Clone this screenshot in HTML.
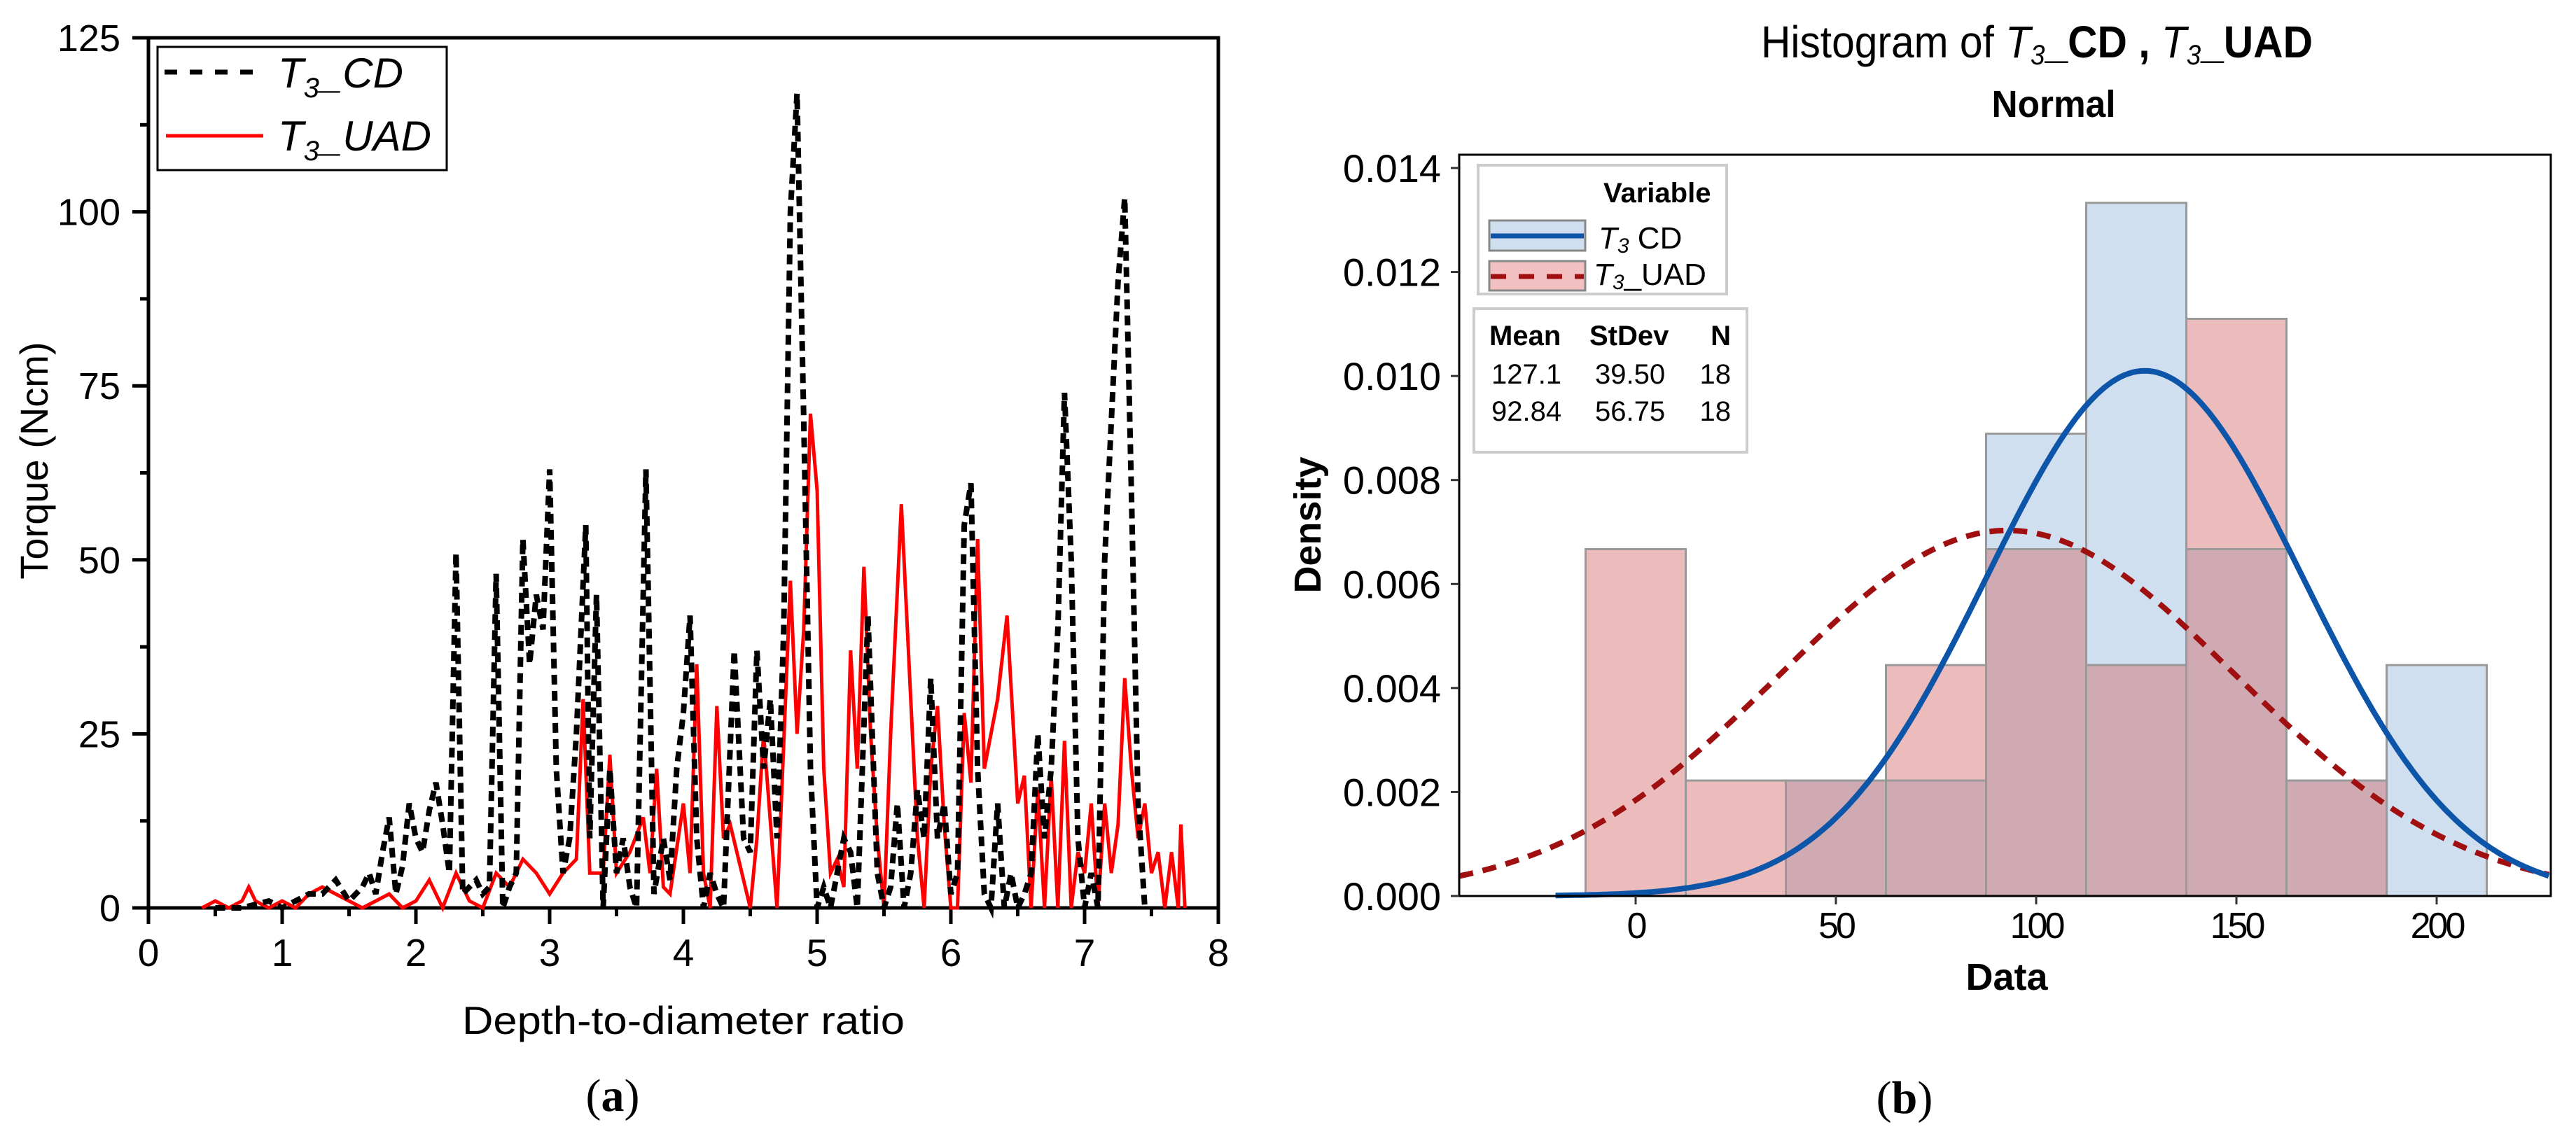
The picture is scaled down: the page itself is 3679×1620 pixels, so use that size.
<!DOCTYPE html>
<html><head><meta charset="utf-8"><style>html,body{margin:0;padding:0;background:#fff}svg{display:block}</style></head>
<body>
<svg id="fig" xmlns="http://www.w3.org/2000/svg" width="3679" height="1620" viewBox="0 0 3679 1620">
<rect width="3679" height="1620" fill="#fff"/>
<g id="left"></g>
<g id="right"></g>
</svg>
<script>
// ---------- Left chart data ----------
const xTicksL = [0,1,2,3,4,5,6,7,8];
const yTicksL = [0,25,50,75,100,125];
const cdX = [0.5,0.7,0.9,1.0,1.1,1.2,1.3,1.4,1.5,1.6,1.65,1.7,1.75,1.8,1.85,1.9,1.95,2.0,2.05,2.1,2.15,2.2,2.25,2.3,2.35,2.4,2.45,2.5,2.55,2.6,2.65,2.7,2.75,2.8,2.85,2.9,2.95,3.0,3.05,3.1,3.15,3.2,3.27,3.3,3.35,3.4,3.45,3.5,3.55,3.6,3.65,3.72,3.78,3.85,3.9,3.95,4.0,4.05,4.1,4.15,4.2,4.25,4.3,4.38,4.45,4.5,4.55,4.6,4.65,4.7,4.75,4.8,4.85,4.9,4.95,5.0,5.05,5.1,5.2,5.25,5.3,5.38,5.45,5.5,5.55,5.6,5.65,5.7,5.75,5.8,5.85,5.9,5.95,6.0,6.05,6.1,6.15,6.2,6.25,6.3,6.35,6.4,6.45,6.5,6.55,6.6,6.65,6.7,6.75,6.8,6.85,6.9,6.95,7.0,7.05,7.1,7.15,7.2,7.25,7.3,7.35,7.4,7.45];
const cdY = [0,0,1,0,1,2,2,4,1,3,5,2,8,13,2,6,15,10,8,14,18,12,5,51,2,3,4,2,3,48,0,3,5,53,35,45,40,63,20,5,10,25,55,10,45,0,20,5,10,3,0,63,2,10,4,20,28,42,10,0,5,2,0,37,10,8,37,20,30,10,40,100,117,70,20,0,3,0,10,8,0,42,5,0,3,15,0,5,17,10,33,10,15,2,5,55,61,20,2,0,15,0,5,0,2,5,25,10,20,40,74,50,10,0,5,0,50,70,90,102,60,15,0];
const uadX = [0.4,0.5,0.6,0.7,0.75,0.8,0.9,1.0,1.1,1.2,1.3,1.4,1.5,1.6,1.7,1.8,1.9,2.0,2.1,2.2,2.3,2.4,2.5,2.6,2.7,2.8,2.9,3.0,3.1,3.2,3.25,3.3,3.4,3.45,3.5,3.6,3.7,3.75,3.8,3.85,3.9,4.0,4.05,4.1,4.15,4.2,4.25,4.3,4.35,4.4,4.5,4.55,4.6,4.7,4.8,4.85,4.9,4.95,5.0,5.05,5.1,5.15,5.2,5.25,5.3,5.35,5.4,5.45,5.5,5.55,5.63,5.7,5.75,5.8,5.85,5.9,5.95,6.0,6.05,6.1,6.15,6.2,6.25,6.3,6.35,6.42,6.5,6.55,6.6,6.65,6.7,6.75,6.8,6.85,6.9,6.95,7.0,7.05,7.1,7.15,7.2,7.25,7.3,7.35,7.4,7.45,7.5,7.55,7.6,7.65,7.7,7.72,7.75];
const uadY = [0,1,0,1,3,1,0,1,0,2,3,2,1,0,1,2,0,1,4,0,5,1,0,5,3,7,5,2,5,7,30,5,5,22,5,8,13,5,20,3,2,15,5,35,5,0,29,10,12,8,0,10,25,0,47,25,40,71,60,20,5,7,3,37,20,49,25,10,0,25,58,30,10,0,20,29,12,0,0,28,18,53,20,25,30,42,15,19,0,17,0,19,0,24,0,8,5,15,0,15,5,12,33,20,10,15,5,8,0,8,0,12,0];
// ---------- Right chart data ----------
const binCenters = [0,25,50,75,100,125,150,175,200];
const cdDensity  = [0,0,0.00222,0.00222,0.00889,0.01333,0.00667,0.00222,0.00444];
const uadDensity = [0.00667,0.00222,0.00222,0.00444,0.00667,0.00444,0.0111,0.00222,0];
const xTicksR = [0,50,100,150,200];
const yTicksR = [0,0.002,0.004,0.006,0.008,0.010,0.012,0.014];
const yTickLabelsR = ["0.000","0.002","0.004","0.006","0.008","0.010","0.012","0.014"];
const cdStats = [127.1, 39.50, 18];
const uadStats = [92.84, 56.75, 18];
const statLabels = [["127.1","39.50","18"],["92.84","56.75","18"]];

const NS="http://www.w3.org/2000/svg";
function mk(parent,tag,attrs,text){const e=document.createElementNS(NS,tag);for(const k in attrs)e.setAttribute(k,attrs[k]);if(text!==undefined)e.textContent=text;parent.appendChild(e);return e;}

// ---------- Left ----------
const L=document.getElementById('left');
const lx=v=>212+v*(1740-212)/8, ly=v=>1297-v*(1297-54)/125;
let e;
e=mk(L,'rect',{x:212,y:54,width:1528,height:1243,fill:'none',stroke:'#000','stroke-width':5});

for(let i=0;i<xTicksL.length;i++){const v=xTicksL[i];
 e=mk(L,'line',{x1:lx(v),x2:lx(v),y1:1297,y2:1320,stroke:'#000','stroke-width':5});
 
 if(i<xTicksL.length-1){e=mk(L,'line',{x1:lx(v+0.5),x2:lx(v+0.5),y1:1297,y2:1309,stroke:'#000','stroke-width':5});
 }
 e=mk(L,'text',{x:lx(v),y:1380,'text-anchor':'middle','font-family':'Liberation Sans, sans-serif','font-size':55},String(v));
 
}
for(let i=0;i<yTicksL.length;i++){const v=yTicksL[i];
 e=mk(L,'line',{x1:189,x2:212,y1:ly(v),y2:ly(v),stroke:'#000','stroke-width':5});
 
 if(i<yTicksL.length-1){e=mk(L,'line',{x1:200,x2:212,y1:ly(v+12.5),y2:ly(v+12.5),stroke:'#000','stroke-width':5});
 }
 e=mk(L,'text',{x:172,y:ly(v)+19,'text-anchor':'end','font-family':'Liberation Sans, sans-serif','font-size':54},String(v));
 
}
function path(xs,ys,fx,fy){let d='';for(let i=0;i<xs.length;i++)d+=(i?'L':'M')+fx(xs[i]).toFixed(1)+','+fy(ys[i]).toFixed(1);return d;}
e=mk(L,'path',{d:path(uadX,uadY,lx,ly),fill:'none',stroke:'#ff0000','stroke-width':5,'stroke-linejoin':'miter'});

e=mk(L,'path',{d:path(cdX,cdY,lx,ly),fill:'none',stroke:'#000','stroke-width':8,'stroke-dasharray':'14 9'});

const lg=mk(L,'g',{});
e=mk(lg,'rect',{x:225,y:67,width:413,height:176,fill:'#fff',stroke:'#000','stroke-width':3});

e=mk(lg,'line',{x1:235,x2:367,y1:103,y2:103,stroke:'#000','stroke-width':7,'stroke-dasharray':'18 18'});

e=mk(lg,'line',{x1:237,x2:376,y1:194,y2:194,stroke:'#ff0000','stroke-width':5});

e=mk(lg,'text',{x:397,y:125,'font-family':'Liberation Sans, sans-serif','font-size':60,'font-style':'italic'});
e.innerHTML='T<tspan font-size="40" dy="14">3</tspan><tspan dy="-14">_CD</tspan>';

e=mk(lg,'text',{x:397,y:215,'font-family':'Liberation Sans, sans-serif','font-size':60,'font-style':'italic'});
e.innerHTML='T<tspan font-size="40" dy="14">3</tspan><tspan dy="-14">_UAD</tspan>';

e=mk(L,'text',{x:0,y:0,transform:'translate(68,658) rotate(-90)','text-anchor':'middle','font-family':'Liberation Sans, sans-serif','font-size':56},'Torque (Ncm)');

e=mk(L,'text',{x:976,y:1477,'text-anchor':'middle','font-family':'Liberation Sans, sans-serif','font-size':56,textLength:632,lengthAdjust:'spacingAndGlyphs'},'Depth-to-diameter ratio');

e=mk(L,'text',{x:875,y:1587,'text-anchor':'middle','font-family':'Liberation Serif, serif','font-size':66});
e.innerHTML='(<tspan font-weight="bold">a</tspan>)';


// ---------- Right ----------
const R=document.getElementById('right');
const rx=v=>2336+v*5.72, ry=v=>1280-v*(1280-240)/0.014;
const bw=25;
for(let i=0;i<binCenters.length;i++){
 const c=binCenters[i],a=cdDensity[i],b=uadDensity[i],lo=Math.min(a,b),hi=Math.max(a,b);
 const x0=rx(c-bw/2),w=rx(c+bw/2)-x0;
 if(hi>lo){e=mk(R,'rect',{x:x0,y:ry(hi),width:w,height:ry(lo)-ry(hi),fill:a>b?'#cfdff0':'#ecbcbc',stroke:'#999','stroke-width':3});
  }
 if(lo>0){e=mk(R,'rect',{x:x0,y:ry(lo),width:w,height:ry(0)-ry(lo),fill:'#cfaab2',stroke:'#999','stroke-width':3});
  }
}
function pdf(x,m,s){return Math.exp(-0.5*((x-m)/s)**2)/(s*Math.sqrt(2*Math.PI));}
function curve(st,x0){let d='';for(let x=x0;x<=228;x+=1){d+=(d?'L':'M')+rx(x).toFixed(1)+','+ry(pdf(x,st[0],st[1])).toFixed(1);}return d;}
e=mk(R,'path',{d:curve(uadStats,-44),fill:'none',stroke:'#a01010','stroke-width':8,'stroke-dasharray':'20 14'});

e=mk(R,'path',{d:curve(cdStats,-20),fill:'none',stroke:'#0d55a8','stroke-width':8});

e=mk(R,'rect',{x:2084,y:221,width:1559,height:1059,fill:'none',stroke:'#000','stroke-width':3});

for(let i=0;i<xTicksR.length;i++){const v=xTicksR[i];
 e=mk(R,'line',{x1:rx(v),x2:rx(v),y1:1280,y2:1292,stroke:'#333','stroke-width':3});
 
 e=mk(R,'text',{x:rx(v),y:1340,'text-anchor':'middle','font-family':'Liberation Sans, sans-serif','font-size':52,'letter-spacing':-4},String(v));
 
}
for(let i=0;i<yTicksR.length;i++){const v=yTicksR[i];
 e=mk(R,'line',{x1:2072,x2:2084,y1:ry(v),y2:ry(v),stroke:'#333','stroke-width':3});
 
 e=mk(R,'text',{x:2058,y:ry(v)+20,'text-anchor':'end','font-family':'Liberation Sans, sans-serif','font-size':56},yTickLabelsR[i]);
 
}
e=mk(R,'text',{x:2909,y:82,'text-anchor':'middle','font-family':'Liberation Sans, sans-serif','font-size':64,textLength:788,lengthAdjust:'spacingAndGlyphs'});
e.innerHTML='Histogram of <tspan font-style="italic" font-weight="normal">T</tspan><tspan font-size="40" dy="10" font-style="italic">3</tspan><tspan dy="-10" font-weight="bold">_CD , </tspan><tspan font-style="italic">T</tspan><tspan font-size="40" dy="10" font-style="italic">3</tspan><tspan dy="-10" font-weight="bold">_UAD</tspan>';

e=mk(R,'text',{x:2933,y:167,'text-anchor':'middle','font-family':'Liberation Sans, sans-serif','font-size':54,'font-weight':'bold',textLength:177,lengthAdjust:'spacingAndGlyphs'},'Normal');

e=mk(R,'text',{x:0,y:0,transform:'translate(1886,750) rotate(-90)','text-anchor':'middle','font-family':'Liberation Sans, sans-serif','font-size':54,'font-weight':'bold'},'Density');

e=mk(R,'text',{x:2866,y:1414,'text-anchor':'middle','font-family':'Liberation Sans, sans-serif','font-size':54,'font-weight':'bold'},'Data');

e=mk(R,'text',{x:2720,y:1590,'text-anchor':'middle','font-family':'Liberation Serif, serif','font-size':66});
e.innerHTML='(<tspan font-weight="bold">b</tspan>)';

const lb=mk(R,'g',{});
e=mk(lb,'rect',{x:2111,y:236,width:355,height:184,fill:'#fff',stroke:'#ccc','stroke-width':4});

e=mk(lb,'text',{x:2290,y:289,'font-family':'Liberation Sans, sans-serif','font-size':40,'font-weight':'bold'},'Variable');

e=mk(lb,'rect',{x:2127,y:315,width:137,height:43,fill:'#cfdff0',stroke:'#888','stroke-width':3});

e=mk(lb,'line',{x1:2129,x2:2262,y1:337,y2:337,stroke:'#0d55a8','stroke-width':7});

e=mk(lb,'rect',{x:2127,y:373,width:137,height:42,fill:'#f2c0c0',stroke:'#888','stroke-width':3});

e=mk(lb,'line',{x1:2129,x2:2262,y1:395,y2:395,stroke:'#a01010','stroke-width':7,'stroke-dasharray':'22 18'});

e=mk(lb,'text',{x:2283,y:355,'font-family':'Liberation Sans, sans-serif','font-size':44});
e.innerHTML='<tspan font-style="italic">T</tspan><tspan font-size="30" dy="6" font-style="italic">3</tspan><tspan dy="-6">  CD</tspan>';

e=mk(lb,'text',{x:2276,y:407,'font-family':'Liberation Sans, sans-serif','font-size':44});
e.innerHTML='<tspan font-style="italic">T</tspan><tspan font-size="30" dy="6" font-style="italic">3</tspan><tspan dy="-6">_UAD</tspan>';

const sb=mk(R,'g',{});
e=mk(sb,'rect',{x:2105,y:441,width:390,height:205,fill:'#fff',stroke:'#ccc','stroke-width':4});

const colX=[2127,2270,2472], anch=['start','start','end'];
const hdr=['Mean','StDev','N'];
for(let j=0;j<3;j++){e=mk(sb,'text',{x:colX[j],y:493,'text-anchor':anch[j],'font-family':'Liberation Sans, sans-serif','font-size':40,'font-weight':'bold'},hdr[j]);
 }
for(let r=0;r<2;r++)for(let j=0;j<3;j++){
 e=mk(sb,'text',{x:j==2?2472:colX[j]+(j==0?3:8),y:548+r*53,'text-anchor':anch[j],'font-family':'Liberation Sans, sans-serif','font-size':40},statLabels[r][j]);
 }
</script>
</body></html>
